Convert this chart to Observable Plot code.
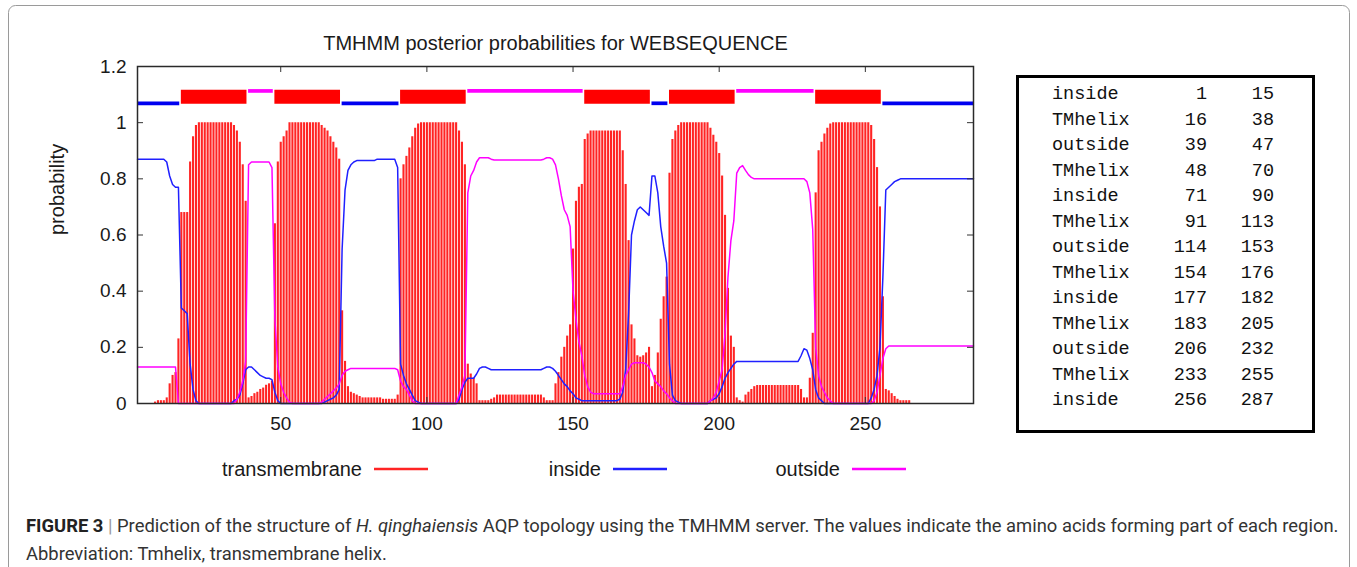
<!DOCTYPE html>
<html>
<head>
<meta charset="utf-8">
<script src="https://cdn.jsdelivr.net/npm/d3@7"></script>
<script src="https://cdn.jsdelivr.net/npm/@observablehq/plot@0.6"></script>
<style>
html,body{margin:0;padding:0;background:#fff;}
#fig{position:relative;width:1357px;height:567px;overflow:hidden;background:#fff;}
#fig svg{display:block;}
</style>
</head>
<body>
<div id="fig"></div>
<script>
// ---- posterior probabilities per residue (1..287) ----
const tmProb = [
0,0,0,0,0,0,0.005,0.01,0.01,0.01,
0.02,0.07,0.10,0.11,0.23,0.68,0.68,0.68,0.86,0.95,
0.99,1,1,1,1,1,1,1,1,1,
1,1,1,0.99,0.97,0.93,0.85,0.72,0.02,0.025,
0.035,0.04,0.05,0.055,0.065,0.07,0.08,0.64,0.86,0.93,
0.95,0.97,1,1,1,1,1,1,1,1,
1,1,1,0.99,0.98,0.97,0.95,0.93,0.91,0.87,
0.33,0.15,0.06,0.04,0.035,0.03,0.025,0.02,0.02,0.02,
0.02,0.02,0.02,0.02,0.015,0.015,0.015,0.015,0.015,0.03,
0.80,0.85,0.88,0.91,0.95,0.98,0.995,1,1,1,
1,1,1,1,1,1,1,1,1,1,
0.97,0.93,0.85,0.14,0.105,0.09,0.07,0.01,0.01,0.01,
0.01,0.015,0.02,0.03,0.03,0.03,0.03,0.03,0.03,0.03,
0.03,0.03,0.03,0.03,0.03,0.03,0.03,0.03,0.03,0.02,
0.01,0.01,0.01,0.07,0.11,0.165,0.20,0.24,0.28,0.55,
0.72,0.77,0.78,0.94,0.96,0.97,0.97,0.97,0.97,0.97,
0.97,0.97,0.97,0.97,0.97,0.97,0.90,0.78,0.58,0.28,
0.23,0.17,0.165,0.17,0.18,0.20,0.06,0.10,0.18,0.30,
0.38,0.45,0.82,0.94,0.97,0.99,1,1,1,1,
1,1,1,1,1,1,0.98,0.955,0.93,0.89,
0.81,0.67,0.41,0.24,0.20,0.02,0.01,0.005,0.03,0.04,
0.05,0.06,0.064,0.064,0.064,0.064,0.064,0.064,0.064,0.064,
0.064,0.064,0.064,0.064,0.064,0.064,0.064,0.05,0.02,0.02,
0.09,0.25,0.75,0.90,0.93,0.96,0.98,0.995,1,1,
1,1,1,1,1,1,1,1,1,1,
1,0.99,0.94,0.84,0.70,0.38,0.05,0.045,0.035,0.025,
0.015,0.01,0.01,0.01,0.01,0,0,0,0,0,
0,0,0,0,0,0,0,0,0,0,
0,0,0,0,0,0,0
];
const insideProb = [
0.87,0.87,0.87,0.87,0.87,0.87,0.87,0.87,0.87,0.87,
0.86,0.81,0.78,0.77,0.77,0.34,0.33,0.32,0.14,0.05,
0.01,0,0,0,0,0,0,0,0,0,
0,0,0,0.01,0.015,0.03,0.07,0.12,0.13,0.13,
0.12,0.11,0.10,0.095,0.09,0.09,0.085,0.04,0.01,0,
0,0,0,0,0,0,0,0,0,0,
0,0,0,0,0.005,0.01,0.015,0.02,0.03,0.05,
0.55,0.76,0.83,0.85,0.86,0.865,0.865,0.865,0.865,0.865,
0.865,0.865,0.87,0.87,0.87,0.87,0.87,0.87,0.87,0.84,
0.14,0.10,0.07,0.05,0.03,0.01,0.005,0,0,0,
0,0,0,0,0,0,0,0,0,0,
0.015,0.05,0.075,0.09,0.09,0.09,0.105,0.125,0.13,0.13,
0.125,0.12,0.12,0.12,0.12,0.12,0.12,0.12,0.12,0.12,
0.12,0.12,0.12,0.12,0.12,0.12,0.12,0.12,0.12,0.125,
0.13,0.13,0.125,0.115,0.10,0.085,0.07,0.06,0.045,0.035,
0.02,0.015,0.01,0.01,0.01,0.01,0.01,0.01,0.01,0.01,
0.01,0.01,0.01,0.01,0.01,0.015,0.04,0.12,0.32,0.60,
0.65,0.69,0.70,0.69,0.68,0.67,0.81,0.81,0.75,0.63,
0.56,0.50,0.14,0.03,0.01,0.005,0,0,0,0,
0,0,0,0,0,0,0.01,0.015,0.02,0.035,
0.06,0.09,0.11,0.125,0.14,0.15,0.15,0.15,0.15,0.15,
0.15,0.15,0.15,0.15,0.15,0.15,0.15,0.15,0.15,0.15,
0.15,0.15,0.15,0.15,0.15,0.15,0.15,0.17,0.195,0.19,
0.16,0.12,0.05,0.02,0.01,0,0,0,0,0,
0,0,0,0,0,0,0,0,0,0,
0,0.02,0.05,0.10,0.20,0.45,0.76,0.77,0.78,0.79,
0.795,0.80,0.80,0.80,0.80,0.80,0.80,0.80,0.80,0.80,
0.80,0.80,0.80,0.80,0.80,0.80,0.80,0.80,0.80,0.80,
0.80,0.80,0.80,0.80,0.80,0.80,0.80
];
const outsideProb = [
0.13,0.13,0.13,0.13,0.13,0.13,0.13,0.13,0.13,0.13,
0.13,0.13,0.13,0.13,0,0,0,0,0,0,
0,0,0,0,0,0,0,0,0,0,
0,0,0,0,0.015,0.04,0.08,0.15,0.85,0.86,
0.86,0.86,0.86,0.86,0.86,0.86,0.84,0.30,0.13,0.07,
0.04,0.02,0.005,0,0,0,0,0,0,0,
0,0,0,0.005,0.015,0.025,0.035,0.045,0.055,0.07,
0.10,0.115,0.12,0.125,0.125,0.125,0.125,0.125,0.125,0.125,
0.125,0.125,0.125,0.125,0.125,0.125,0.125,0.125,0.125,0.12,
0.08,0.06,0.05,0.03,0.01,0,0,0,0,0,
0,0,0,0,0,0,0,0,0,0,
0.03,0.06,0.10,0.75,0.81,0.83,0.86,0.875,0.875,0.875,
0.875,0.87,0.867,0.867,0.867,0.867,0.867,0.867,0.867,0.867,
0.867,0.867,0.867,0.867,0.867,0.867,0.867,0.867,0.867,0.87,
0.875,0.875,0.87,0.85,0.80,0.74,0.69,0.67,0.63,0.40,
0.30,0.22,0.17,0.10,0.06,0.04,0.035,0.035,0.035,0.035,
0.035,0.035,0.035,0.035,0.035,0.035,0.06,0.10,0.12,0.14,
0.145,0.145,0.145,0.145,0.14,0.13,0.11,0.08,0.07,0.06,
0.045,0.035,0.02,0.01,0,0,0,0,0,0,
0,0,0,0,0,0,0.01,0.02,0.04,0.08,
0.12,0.25,0.45,0.58,0.65,0.82,0.84,0.847,0.83,0.815,
0.805,0.80,0.80,0.80,0.80,0.80,0.80,0.80,0.80,0.80,
0.80,0.80,0.80,0.80,0.80,0.80,0.80,0.80,0.80,0.79,
0.75,0.62,0.20,0.10,0.06,0.04,0.02,0.01,0,0,
0,0,0,0,0,0,0,0,0,0,
0,0,0.01,0.04,0.10,0.16,0.195,0.205,0.205,0.205,
0.205,0.205,0.205,0.205,0.205,0.205,0.205,0.205,0.205,0.205,
0.205,0.205,0.205,0.205,0.205,0.205,0.205,0.205,0.205,0.205,
0.205,0.205,0.205,0.205,0.205,0.205,0.205
];

// ---- predicted topology (table and top band) ----
const segType  = ["inside","TMhelix","outside","TMhelix","inside","TMhelix","outside","TMhelix","inside","TMhelix","outside","TMhelix","inside"];
const segStart = [1,16,39,48,71,91,114,154,177,183,206,233,256];
const segEnd   = [15,38,47,70,90,113,153,176,182,205,232,255,287];

// ---- ticks & text ----
const yTicks = [0, 0.2, 0.4, 0.6, 0.8, 1, 1.2];
const xTicks = [50, 100, 150, 200, 250];
const legendNames = ["transmembrane", "inside", "outside"];
const titleText = "TMHMM posterior probabilities for WEBSEQUENCE";
const yLabelText = "probability";
const captionLine2 = "Abbreviation: Tmhelix, transmembrane helix.";

// ---- build ----
const seqLen = tmProb.length;
const rows = tmProb.map((v, i) => ({pos: i + 1, tm: v, inside: insideProb[i], outside: outsideProb[i]}));
const segs = segType.map((t, i) => ({type: t, start: segStart[i], end: segEnd[i]}));
const segX2 = d => Math.min(d.end + 0.45, seqLen);

const RED = "#ff2424", BLUE = "#2020ff", MAG = "#ff00ff";
const sans = "'Liberation Sans', Arial, Helvetica, sans-serif";

const W = 1357, H = 567, mL = 137, mR = 384, mT = 66, mB = 164;
const pw = W - mL - mR, ph = H - mT - mB;
const tick = 6;

const chart = Plot.plot({
  width: W, height: H,
  marginLeft: mL, marginRight: mR, marginTop: mT, marginBottom: mB,
  style: {fontFamily: sans, color: "#1a1a1a", background: "transparent", overflow: "visible"},
  x: {domain: [1, seqLen]},
  y: {domain: [0, 1.2]},
  marks: [
    Plot.ruleX(rows, {x: "pos", y1: 0, y2: "tm", stroke: RED, strokeWidth: 2.1}),
    Plot.line(rows, {x: "pos", y: "inside", stroke: BLUE, strokeWidth: 1.5}),
    Plot.line(rows, {x: "pos", y: "outside", stroke: MAG, strokeWidth: 1.5}),
    Plot.ruleY(segs.filter(d => d.type === "inside"), {y: 1.069, x1: "start", x2: segX2, stroke: "#0000f0", strokeWidth: 3.7}),
    Plot.ruleY(segs.filter(d => d.type === "outside"), {y: 1.113, x1: "start", x2: segX2, stroke: MAG, strokeWidth: 3.7}),
    Plot.ruleY(segs.filter(d => d.type === "TMhelix"), {y: 1.092, x1: "start", x2: segX2, stroke: "#ff0000", strokeWidth: 14}),
    Plot.tickY(yTicks, {y: d => d, insetRight: pw - tick, stroke: "#333"}),
    Plot.tickY(yTicks, {y: d => d, insetLeft: pw - tick, stroke: "#333"}),
    Plot.tickX(xTicks, {x: d => d, insetBottom: ph - tick, stroke: "#333"}),
    Plot.tickX(xTicks, {x: d => d, insetTop: ph - tick, stroke: "#333"}),
    Plot.frame({stroke: "#2a2a2a", strokeWidth: 1.5}),
    Plot.axisY({ticks: yTicks, tickSize: 0, tickPadding: 11, fontSize: 19, tickFormat: d => String(+d.toFixed(1)), label: null}),
    Plot.axisX({ticks: xTicks, tickSize: 0, tickPadding: 13, fontSize: 19, label: null}),
    Plot.text([titleText], {text: d => d, frameAnchor: "top", dy: -31, fontSize: 20}),
    Plot.text([yLabelText], {text: d => d, frameAnchor: "left", dx: -80, rotate: -90, fontSize: 20})
  ]
});
document.getElementById("fig").appendChild(chart);

const svg = d3.select(chart);

// outer rounded border of the figure
svg.append("rect").attr("x", 8.5).attr("y", 5.5).attr("width", 1341).attr("height", 600)
  .attr("rx", 7).attr("fill", "none").attr("stroke", "#9a9a9a").attr("stroke-width", 1);

// legend
const legColors = [RED, BLUE, MAG];
const legTextRight = [362, 601, 840];
const legY = 469;
const lg = svg.append("g").attr("font-family", sans).attr("font-size", 20).attr("fill", "#1a1a1a");
legendNames.forEach((name, i) => {
  lg.append("text").attr("x", legTextRight[i]).attr("y", legY).attr("dy", "0.35em")
    .attr("text-anchor", "end").text(name);
  lg.append("line").attr("x1", legTextRight[i] + 12).attr("x2", legTextRight[i] + 66)
    .attr("y1", legY).attr("y2", legY).attr("stroke", legColors[i]).attr("stroke-width", 2.4);
});

// region table
const tg = svg.append("g").attr("font-family", "'Liberation Mono', 'DejaVu Sans Mono', monospace")
  .attr("font-size", 18.5).attr("fill", "#111").attr("text-anchor", "start");
tg.append("rect").attr("x", 1017.5).attr("y", 76.5).attr("width", 296).attr("height", 355)
  .attr("fill", "none").attr("stroke", "#000").attr("stroke-width", 3);
segs.forEach((d, i) => {
  const y = 99 + i * 25.5;
  tg.append("text").attr("x", 1052).attr("y", y).attr("text-anchor", "start").text(d.type);
  tg.append("text").attr("x", 1207).attr("y", y).attr("text-anchor", "end").text(d.start);
  tg.append("text").attr("x", 1274).attr("y", y).attr("text-anchor", "end").text(d.end);
});

// caption
const cap = svg.append("g").attr("font-family", "Roboto, 'Liberation Sans', Arial, sans-serif")
  .attr("font-size", 18.4).attr("fill", "#333").attr("text-anchor", "start");
const l1 = cap.append("text").attr("x", 26).attr("y", 532).attr("text-anchor", "start");
l1.append("tspan").attr("font-weight", "bold").attr("fill", "#222").text("FIGURE 3 ");
l1.append("tspan").attr("fill", "#999").text("| ");
l1.append("tspan").text("Prediction of the structure of ");
l1.append("tspan").attr("font-style", "italic").text("H. qinghaiensis");
l1.append("tspan").text(" AQP topology using the TMHMM server. The values indicate the amino acids forming part of each region.");
cap.append("text").attr("x", 26).attr("y", 560).attr("text-anchor", "start").text(captionLine2);
</script>
</body>
</html>
